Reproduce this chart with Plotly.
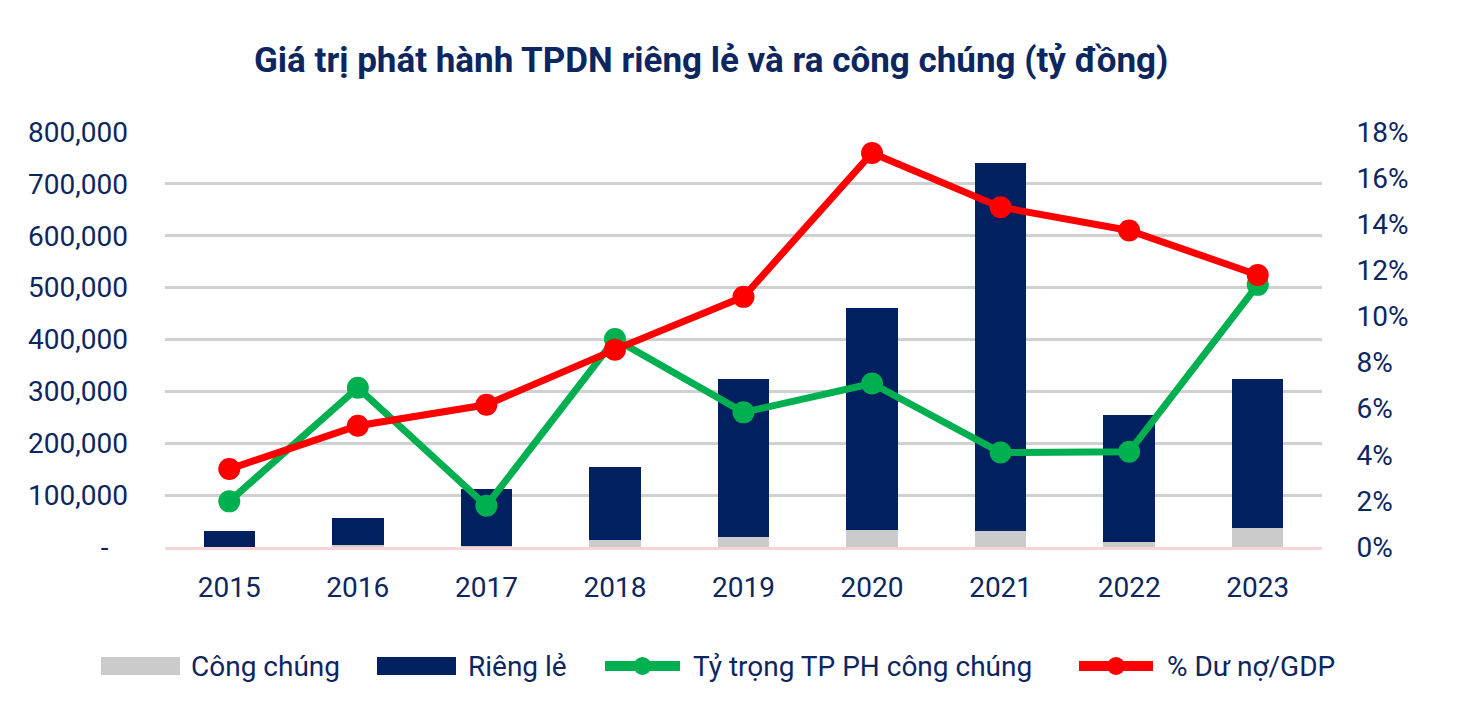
import plotly.graph_objects as go

years = ["2015", "2016", "2017", "2018", "2019", "2020", "2021", "2022", "2023"]
cong_chung = [600, 3900, 2000, 13000, 18500, 32000, 30000, 10500, 37000]
rieng_le = [30800, 52600, 109500, 141000, 304500, 429000, 711000, 243200, 286000]
ty_trong = [1.98, 6.91, 1.79, 9.02, 5.84, 7.09, 4.10, 4.13, 11.37]
du_no_gdp = [3.38, 5.26, 6.17, 8.56, 10.85, 17.09, 14.74, 13.73, 11.80]

left_ticks = [0, 100000, 200000, 300000, 400000, 500000, 600000, 700000, 800000]
left_text = ["-\u00a0\u00a0\u2009", "100,000", "200,000", "300,000", "400,000",
             "500,000", "600,000", "700,000", "800,000"]
right_ticks = [0, 2, 4, 6, 8, 10, 12, 14, 16, 18]
right_text = ["0%", "2%", "4%", "6%", "8%", "10%", "12%", "14%", "16%", "18%"]

NAVY = "#002060"
GRAY = "#CBCBCB"
GREEN = "#00B050"
RED = "#FF0000"
TEXT = "#0D2660"
FONT = "Roboto, Liberation Sans, sans-serif"

L, T, PW, PH = 157, 124, 1157, 415
W, H = 1468, 712


def px(sx):
    return (sx - 8 - L) / PW


def py(sy):
    return (T + PH - (sy - 8)) / PH


fig = go.Figure()
fig.add_trace(go.Bar(x=years, y=cong_chung, name="Công chúng",
                     marker=dict(color=GRAY, line=dict(width=0))))
fig.add_trace(go.Bar(x=years, y=rieng_le, name="Riêng lẻ",
                     marker=dict(color=NAVY, line=dict(width=0))))
fig.add_trace(go.Scatter(x=years, y=ty_trong, name="Tỷ trọng TP PH công chúng",
                         yaxis="y2", mode="lines+markers",
                         line=dict(color=GREEN, width=7),
                         marker=dict(color=GREEN, size=22)))
fig.add_trace(go.Scatter(x=years, y=du_no_gdp, name="% Dư nợ/GDP",
                         yaxis="y2", mode="lines+markers",
                         line=dict(color=RED, width=7),
                         marker=dict(color=RED, size=22)))

# custom legend (wide swatches as in the reference)
legend_items = [
    ("rect", GRAY, 101, 180, 189, "Công chúng"),
    ("rect", NAVY, 377, 456, 466, "Riêng lẻ"),
    ("line", GREEN, 600, 685, 691, "Tỷ trọng TP PH công chúng"),
    ("line", RED, 1074, 1158, 1165, "% Dư nợ/GDP"),
]
LY = 666
shapes = []
annotations = []
for kind, color, x0, x1, tx, label in legend_items:
    if kind == "rect":
        shapes.append(dict(type="rect", xref="paper", yref="paper",
                           x0=px(x0), x1=px(x1), y0=py(LY + 9), y1=py(LY - 9),
                           fillcolor=color, line=dict(width=0)))
    else:
        shapes.append(dict(type="line", xref="paper", yref="paper",
                           x0=px(x0 + 5), x1=px(x1 - 5), y0=py(LY), y1=py(LY),
                           line=dict(color=color, width=10)))
        cx = (x0 + x1) / 2
        shapes.append(dict(type="circle", xref="paper", yref="paper",
                           x0=px(cx - 9), x1=px(cx + 9), y0=py(LY + 9), y1=py(LY - 9),
                           fillcolor=color, line=dict(width=0)))
    annotations.append(dict(text=label, xref="paper", yref="paper",
                            x=px(tx), y=py(LY), xanchor="left", yanchor="middle",
                            showarrow=False, font=dict(size=28, color=TEXT)))

fig.update_layout(
    width=W, height=H,
    margin=dict(l=L, r=W - L - PW, t=T, b=H - T - PH),
    paper_bgcolor="white", plot_bgcolor="white",
    barmode="stack", bargap=0.6,
    font=dict(family=FONT, size=28, color=TEXT),
    title=dict(text="<b>Giá trị phát hành TPDN riêng lẻ và ra công chúng (tỷ đồng)</b>",
               x=0.479, xanchor="center", y=0.927, yanchor="middle",
               font=dict(family=FONT, size=35, color=TEXT)),
    xaxis=dict(type="category", range=[-0.5, len(years) - 0.5],
               showgrid=False, showline=True,
               linecolor="#F6D5D8", linewidth=2.5, ticks="",
               ticklabelstandoff=14, tickfont=dict(size=28, color=TEXT)),
    yaxis=dict(range=[0, 800000], tickvals=left_ticks, ticktext=left_text,
               showgrid=True, gridcolor="#D0D0D0", gridwidth=2.5,
               zeroline=False, showline=False, ticks="",
               ticklabelstandoff=36, tickfont=dict(size=28, color=TEXT)),
    yaxis2=dict(range=[0, 18], tickvals=right_ticks, ticktext=right_text,
                overlaying="y", side="right", showgrid=False, zeroline=False,
                showline=False, ticks="outside", ticklen=28,
                tickcolor="rgba(0,0,0,0)",
                tickfont=dict(size=28, color=TEXT)),
    showlegend=False,
    shapes=shapes,
    annotations=annotations,
)

fig.write_html("out.html")
